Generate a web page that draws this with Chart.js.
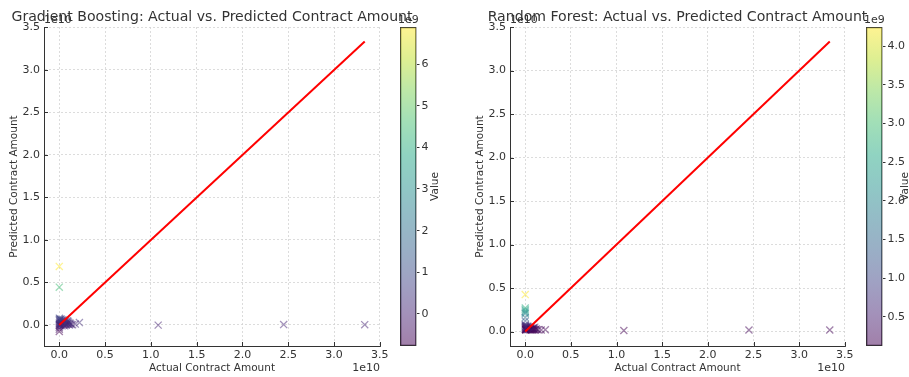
<!DOCTYPE html>
<html>
<head>
<meta charset="utf-8">
<script src="https://cdn.jsdelivr.net/npm/chart.js@4.4.0/dist/chart.umd.min.js"></script>
<style>
  html, body { margin: 0; padding: 0; background: #fff; }
  #wrap { position: relative; width: 909px; height: 377px; overflow: hidden; }
  canvas { position: absolute; top: 0; }
</style>
</head>
<body>
<div id="wrap">
  <canvas id="gbChart" width="460" height="377" style="left:0px"></canvas>
  <canvas id="rfChart" width="443" height="377" style="left:466px"></canvas>
  <canvas id="gbBar" width="60" height="377" style="left:395px"></canvas>
  <canvas id="rfBar" width="48" height="377" style="left:861px"></canvas>
</div>
<script>
// Gradient Boosting: actual vs predicted
const gbActual = [
  2e6, 3e6, 1.08e10, 2.45e10, 3.335e10, 2.2e9, 1.75e9, 1.45e9, 5e6, 8e6, 4e6,
  1e7, 2e7, 3e7, 5e7, 8e7, 1e8, 1.5e8, 2e8, 2.5e8, 3e8, 3.5e8, 4e8, 4.5e8, 5e8,
  5.5e8, 6e8, 6.5e8, 7e8, 7.5e8, 8e8, 8.5e8, 9e8, 9.5e8, 1e9, 1.05e9, 1.1e9, 1.2e9,
  2e7, 6e7, 1.2e8, 3e8, 5e6, 1e7, 4e7, 2e8, 6e8, 7e8, 9e8, 1.3e9, 2e8
];
const gbPredicted = [
  6.89e9, 4.45e9, -2e7, 4e7, 3e7, 2.8e8, 1e8, 3e7, -7.7e8, -5e8, -3e8,
  1e8, 3e8, 5e8, 7e8, 2e8, 4e8, 6e8, 1e8, 3e8, 5e8, 2e8, 6e8, 0, 3e8,
  1e8, 4e8, 2e8, 5e8, 0, 3e8, 1e8, 2e8, 4e8, 1e8, 3e8, 0, 2e8,
  -1e8, 8e7, -5e7, -1e8, 6e8, 8e8, 0, 7e8, -1e8, 1e8, 5e8, 5e7, 2e8
];

// Random Forest: actual vs predicted
const rfActual = [
  2e6, 3e6, 4e6, 5e6, 6e6, 3e6, 4e6, 5e6, 6e6, 1.08e10, 2.45e10, 3.335e10,
  2.2e9, 1.75e9, 1.45e9,
  1e7, 2e7, 3e7, 5e7, 8e7, 1e8, 1.5e8, 2e8, 2.5e8, 3e8, 3.5e8, 4e8, 4.5e8, 5e8,
  5.5e8, 6e8, 6.5e8, 7e8, 7.5e8, 8e8, 8.5e8, 9e8, 9.5e8, 1e9, 1.05e9, 1.1e9, 1.2e9,
  2e7, 6e7, 1.2e8, 3e8, 5e6, 1e7, 4e7, 2e8, 6e8, 9e8, 1.3e9
];
const rfPredicted = [
  4.25e9, 2.7e9, 2.5e9, 2.35e9, 2.2e9, 2.05e9, 1.6e9, 1.2e9, 8e8, 1.2e8, 1.7e8, 1.8e8,
  2e8, 1.8e8, 1.9e8,
  3e8, 5e8, 2e8, 6e8, 3e8, 4e8, 2e8, 5e8, 3e8, 2e8, 4e8, 3e8, 2e8, 5e8,
  2e8, 3e8, 4e8, 2e8, 3e8, 2e8, 4e8, 2e8, 3e8, 2e8, 5e8, 2e8, 3e8,
  6e8, 2e8, 4e8, 6e8, 7e8, 4e8, 2e8, 6e8, 2e8, 4e8, 2e8
];

// tick values
const axisTicks = [0, 0.5e10, 1e10, 1.5e10, 2e10, 2.5e10, 3e10, 3.5e10];
const gbBarTicks = [0, 1e9, 2e9, 3e9, 4e9, 5e9, 6e9];
const rfBarTicks = [0.5e9, 1e9, 1.5e9, 2e9, 2.5e9, 3e9, 3.5e9, 4e9];

const VIRIDIS = ['#440154', '#482475', '#414487', '#355f8d', '#2a788e', '#21918c',
  '#22a884', '#44bf70', '#7ad151', '#bddf26', '#fde725'];

function hex2rgb(h) {
  return [parseInt(h.slice(1, 3), 16), parseInt(h.slice(3, 5), 16), parseInt(h.slice(5, 7), 16)];
}
function viridis(t, a) {
  t = Math.max(0, Math.min(1, t));
  const p = t * (VIRIDIS.length - 1);
  const i = Math.min(Math.floor(p), VIRIDIS.length - 2);
  const f = p - i;
  const c0 = hex2rgb(VIRIDIS[i]), c1 = hex2rgb(VIRIDIS[i + 1]);
  const c = c0.map((v, k) => Math.round(v + (c1[k] - v) * f));
  return `rgba(${c[0]},${c[1]},${c[2]},${a})`;
}

Chart.defaults.font.family = 'DejaVu Sans';
Chart.defaults.font.size = 11;
Chart.defaults.color = '#333';

const TXT = '#333';
const GRID = '#d4d4d4';

function drawText(ctx, text, x, y, size, align, rot) {
  ctx.save();
  ctx.font = `${size}px "DejaVu Sans"`;
  ctx.fillStyle = TXT;
  ctx.textAlign = align;
  ctx.textBaseline = 'middle';
  ctx.translate(x, y);
  if (rot) ctx.rotate(rot);
  ctx.fillText(text, 0, 0);
  ctx.restore();
}

function scatterChart(id, title, actual, predicted, padRight) {
  const lo = Math.min(...actual), hi = Math.max(...actual);
  const yLo = Math.min(lo, ...predicted), yHi = Math.max(hi, ...predicted);
  const vmin = Math.min(...predicted), vmax = Math.max(...predicted);
  const pts = actual.map((a, i) => ({x: a, y: predicted[i]}));
  const cols = predicted.map(v => viridis((v - vmin) / (vmax - vmin), 0.5));
  const xPad = (hi - lo) * 0.05, yPad = (yHi - yLo) * 0.05;

  const extras = {
    id: 'extras' + id,
    afterDraw(chart) {
      const {ctx, chartArea: a, scales: {x, y}} = chart;
      ctx.save();
      ctx.strokeStyle = TXT;
      ctx.lineWidth = 1;
      ctx.beginPath();
      x.ticks.forEach(t => {
        const px = Math.round(x.getPixelForValue(t.value)) + 0.5;
        ctx.moveTo(px, a.bottom); ctx.lineTo(px, a.bottom - 4);
      });
      y.ticks.forEach(t => {
        const py = Math.round(y.getPixelForValue(t.value)) + 0.5;
        ctx.moveTo(a.left, py); ctx.lineTo(a.left + 4, py);
      });
      ctx.stroke();
      ctx.restore();
      drawText(ctx, '1e10', a.left, 20, 11, 'left');
      drawText(ctx, '1e10', a.right, 368, 11, 'right');
      drawText(ctx, title, (a.left + a.right) / 2, 17, 14.1, 'center');
    }
  };

  return new Chart(document.getElementById(id), {
    type: 'scatter',
    data: {
      datasets: [
        {
          type: 'line',
          data: [{x: lo, y: lo}, {x: hi, y: hi}],
          borderColor: '#ff0000',
          borderWidth: 2,
          pointRadius: 0,
          order: 0
        },
        {
          data: pts,
          pointStyle: 'crossRot',
          pointRadius: 5,
          pointBorderWidth: 1.3,
          pointBorderColor: cols,
          pointBackgroundColor: cols,
          order: 1
        }
      ]
    },
    options: {
      responsive: false,
      animation: false,
      layout: {padding: {top: 27, right: padRight, left: 0, bottom: 0}},
      plugins: {legend: {display: false}, tooltip: {enabled: false}},
      scales: {
        x: {
          type: 'linear',
          min: lo - xPad,
          max: hi + xPad,
          afterFit: s => { s.height = 31; },
          afterBuildTicks: s => { s.ticks = axisTicks.map(v => ({value: v})); },
          ticks: {padding: 3, autoSkip: false, maxRotation: 0,
            callback: v => (v / 1e10).toFixed(1)},
          grid: {color: GRID, lineWidth: 0.8, drawTicks: false},
          border: {display: true, color: TXT, width: 1, dash: [2, 2]},
          title: {display: true, text: 'Actual Contract Amount', font: {size: 10.5}, padding: {top: 0, bottom: 2}}
        },
        y: {
          type: 'linear',
          min: yLo - yPad,
          max: yHi + yPad,
          afterFit: s => { s.width = 44; },
          afterBuildTicks: s => { s.ticks = axisTicks.map(v => ({value: v})); },
          ticks: {padding: 4, autoSkip: false,
            callback: v => (v / 1e10).toFixed(1)},
          grid: {color: GRID, lineWidth: 0.8, drawTicks: false},
          border: {display: true, color: TXT, width: 1, dash: [2, 2]},
          title: {display: true, text: 'Predicted Contract Amount', font: {size: 10.5}, padding: {top: 8, bottom: 0}}
        }
      }
    },
    plugins: [extras]
  });
}

function colorBar(id, values, tickVals, digits, labelX) {
  const vmin = Math.min(...values), vmax = Math.max(...values);
  const width = document.getElementById(id).width;
  const extras = {
    id: 'cb' + id,
    afterDraw(chart) {
      const {ctx, chartArea: a} = chart;
      drawText(ctx, '1e9', a.left - 2, 20, 11, 'left');
      drawText(ctx, 'Value', labelX, (a.top + a.bottom) / 2, 10.5, 'center', -Math.PI / 2);
    }
  };
  return new Chart(document.getElementById(id), {
    type: 'bar',
    data: {
      labels: [''],
      datasets: [{
        data: [[vmin, vmax]],
        backgroundColor: ctx => {
          const area = ctx.chart.chartArea;
          if (!area) return 'rgba(0,0,0,0)';
          const g = ctx.chart.ctx.createLinearGradient(0, area.bottom, 0, area.top);
          VIRIDIS.forEach((c, i) => g.addColorStop(i / (VIRIDIS.length - 1), viridis(i / (VIRIDIS.length - 1), 0.5)));
          return g;
        },
        borderColor: TXT,
        borderWidth: 1,
        borderSkipped: false,
        barPercentage: 1,
        categoryPercentage: 1
      }]
    },
    options: {
      responsive: false,
      animation: false,
      layout: {padding: {top: 27, bottom: 31, left: 5, right: 0}},
      plugins: {legend: {display: false}, tooltip: {enabled: false}},
      scales: {
        x: {display: false},
        y: {
          position: 'right',
          min: vmin,
          max: vmax,
          afterFit: s => { s.width = width - 5 - 16.5; },
          afterBuildTicks: s => { s.ticks = tickVals.map(v => ({value: v})); },
          ticks: {padding: 2, autoSkip: false,
            callback: v => (v / 1e9).toFixed(digits)},
          grid: {drawOnChartArea: false, drawTicks: true, tickLength: 3, tickColor: TXT},
          border: {display: false}
        }
      }
    },
    plugins: [extras]
  });
}

scatterChart('gbChart', 'Gradient Boosting: Actual vs. Predicted Contract Amount', gbActual, gbPredicted, 80);
scatterChart('rfChart', 'Random Forest: Actual vs. Predicted Contract Amount', rfActual, rfPredicted, 64);
colorBar('gbBar', gbPredicted, gbBarTicks, 0, 40);
colorBar('rfBar', rfPredicted, rfBarTicks, 1, 44);
</script>
</body>
</html>
